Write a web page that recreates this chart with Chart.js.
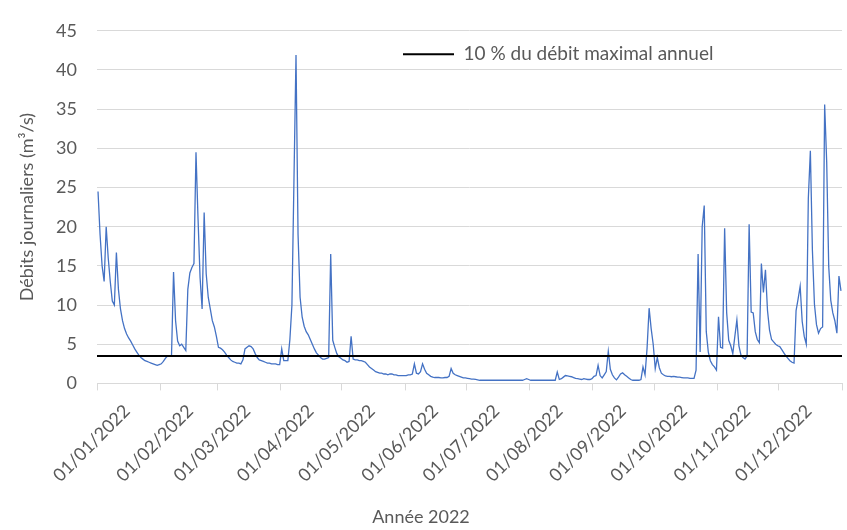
<!DOCTYPE html>
<html lang="fr">
<head>
<meta charset="utf-8">
<script src="https://cdn.jsdelivr.net/npm/chart.js@4.4.1/dist/chart.umd.min.js"></script>
<style>
  html, body { margin: 0; padding: 0; background: #ffffff; }
  #graphique { display: block; }
</style>
</head>
<body>
<canvas id="graphique" width="847" height="530"></canvas>
<script>
// Débits journaliers 2022 (m3/s) - une ligne par mois
const debitsJournaliers = [
  // janvier
  24.5, 19, 15, 13, 20, 16, 13, 10.5, 10, 16.7, 12, 9.5, 8, 7, 6.3, 5.8, 5.4, 4.9, 4.4, 4.0, 3.6, 3.3, 3.1, 2.9, 2.8, 2.7, 2.6, 2.5, 2.4, 2.3, 2.4,
  // février
  2.5, 2.8, 3.2, 3.5, 3.5, 3.5, 14.2, 8, 5.4, 4.8, 5.0, 4.6, 4.2, 12, 14.1, 14.8, 15.3, 29.5, 21, 13.5, 9.5, 21.8, 14, 11, 9.5, 8, 7.2, 6.0,
  // mars
  4.6, 4.5, 4.3, 4.0, 3.6, 3.3, 3.0, 2.8, 2.7, 2.6, 2.6, 2.5, 3.0, 4.4, 4.6, 4.8, 4.7, 4.4, 3.8, 3.3, 3.0, 2.9, 2.8, 2.7, 2.6, 2.6, 2.5, 2.5, 2.5, 2.4, 2.4,
  // avril
  4.4, 2.9, 2.9, 2.9, 5.6, 10, 26, 41.9, 19, 11, 8.5, 7.3, 6.6, 6.2, 5.6, 5.0, 4.4, 3.9, 3.6, 3.3, 3.1, 3.1, 3.2, 3.3, 16.5, 5.5, 4.6, 3.8, 3.4, 3.2,
  // mai
  3.0, 2.9, 2.7, 2.8, 6.0, 3.1, 3.0, 3.0, 2.9, 2.9, 2.8, 2.7, 2.4, 2.1, 1.9, 1.7, 1.5, 1.4, 1.3, 1.3, 1.2, 1.2, 1.1, 1.2, 1.2, 1.1, 1.1, 1.0, 1.0, 1.0, 1.0,
  // juin
  1.0, 1.1, 1.1, 1.2, 2.5, 1.3, 1.2, 1.5, 2.5, 1.8, 1.3, 1.1, 0.9, 0.8, 0.75, 0.75, 0.75, 0.7, 0.7, 0.75, 0.75, 0.9, 1.9, 1.3, 1.1, 1.0, 0.9, 0.8, 0.7, 0.7,
  // juillet
  0.65, 0.6, 0.55, 0.55, 0.5, 0.45, 0.4, 0.4, 0.4, 0.4, 0.4, 0.4, 0.4, 0.4, 0.4, 0.4, 0.4, 0.4, 0.4, 0.4, 0.4, 0.4, 0.4, 0.4, 0.4, 0.4, 0.4, 0.4, 0.5, 0.6, 0.5,
  // août
  0.4, 0.4, 0.4, 0.4, 0.4, 0.4, 0.4, 0.4, 0.4, 0.4, 0.4, 0.4, 0.4, 1.45, 0.5, 0.6, 0.8, 1.0, 0.95, 0.9, 0.85, 0.75, 0.65, 0.6, 0.55, 0.5, 0.6, 0.55, 0.5, 0.5, 0.6,
  // septembre
  0.9, 1.0, 2.3, 1.0, 0.7, 1.1, 1.5, 4.1, 1.8, 1.1, 0.7, 0.45, 0.8, 1.2, 1.35, 1.1, 0.9, 0.7, 0.5, 0.4, 0.4, 0.4, 0.4, 0.5, 2.1, 1.1, 4.5, 9.6, 7.0, 5.0,
  // octobre
  1.9, 3.3, 2.0, 1.3, 1.1, 0.95, 0.9, 0.9, 0.85, 0.9, 0.85, 0.8, 0.8, 0.75, 0.7, 0.7, 0.7, 0.65, 0.65, 0.65, 1.7, 16.5, 4.0, 20, 22.7, 6.6, 4.0, 2.9, 2.4, 2.1, 1.7,
  // novembre
  8.5, 4.6, 4.5, 19.8, 9, 5.5, 4.8, 3.8, 6.0, 8.1, 4.8, 3.6, 3.3, 3.1, 3.5, 20.3, 9.1, 9.0, 6.6, 5.6, 5.2, 15.3, 11.6, 14.5, 9.3, 6.8, 5.6, 5.3, 5.0, 4.8,
  // décembre
  4.7, 4.3, 3.9, 3.5, 3.2, 2.9, 2.7, 2.6, 9.3, 10.8, 12.4, 7.9, 6.0, 5.0, 23.6, 29.7, 17, 10.1, 7.5, 6.4, 7.0, 7.2, 35.6, 28.3, 14.9, 10.6, 9.0, 8.0, 6.4, 13.7, 11.8
];

// Seuil horizontal
const seuil = 3.5;

// Début de chaque mois (en jours depuis le 01/01) + fin d'année
const debutsMois = [0, 31, 59, 90, 120, 151, 181, 212, 243, 273, 304, 334, 365];
const etiquettesMois = ['01/01/2022', '01/02/2022', '01/03/2022', '01/04/2022', '01/05/2022', '01/06/2022',
                        '01/07/2022', '01/08/2022', '01/09/2022', '01/10/2022', '01/11/2022', '01/12/2022'];

const gris = '#595959';
const grille = '#d9d9d9';
const police = 'Lato, "Open Sans", sans-serif';

// Chaque point est au milieu de sa journée
const pointsDebit = debitsJournaliers.map((v, i) => ({ x: i + 0.5, y: v }));
const pointsSeuil = [{ x: 0, y: seuil }, { x: 365, y: seuil }];

// Légende posée à l'intérieur de la zone du graphique
const placerLegende = {
  id: 'placerLegende',
  afterLayout(chart) {
    const lg = chart.legend;
    lg.left = 393;
    lg.right = chart.chartArea.right;
    lg.top = chart.chartArea.top + 4;
    lg.bottom = chart.chartArea.top + 60;
  }
};

new Chart(document.getElementById('graphique'), {
  type: 'line',
  data: {
    datasets: [
      {
        label: 'Débits journaliers',
        data: pointsDebit,
        borderColor: '#4472c4',
        borderWidth: 1.3,
        pointRadius: 0,
        tension: 0,
        order: 1
      },
      {
        label: '10 % du débit maximal annuel',
        data: pointsSeuil,
        borderColor: '#000000',
        backgroundColor: '#000000',
        borderWidth: 2,
        pointRadius: 0,
        order: 0
      }
    ]
  },
  options: {
    responsive: false,
    animation: false,
    layout: { padding: { left: 0, right: 5, top: 20, bottom: 0 } },
    scales: {
      x: {
        type: 'linear',
        min: 0,
        max: 365,
        afterBuildTicks: (axis) => { axis.ticks = debutsMois.map(v => ({ value: v })); },
        afterFit: (scale) => {
          scale.height = 115;
          scale.paddingLeft = 0;
          scale.paddingRight = 0;
        },
        grid: { drawOnChartArea: false, drawTicks: true, tickLength: 7, color: grille },
        border: { display: true, color: grille },
        ticks: {
          autoSkip: false,
          minRotation: 45,
          maxRotation: 45,
          labelOffset: 30,
          padding: 10,
          color: gris,
          font: { family: police, size: 18 },
          callback: (value, index) => etiquettesMois[index] ?? ''
        }
      },
      y: {
        min: 0,
        max: 45,
        afterFit: (scale) => { scale.width = 97; },
        grid: { color: grille, drawTicks: false },
        border: { display: false },
        ticks: {
          stepSize: 5,
          padding: 20,
          color: gris,
          font: { family: police, size: 18 }
        },
        title: {
          display: true,
          text: 'Débits journaliers (m³/s)',
          color: gris,
          font: { family: police, size: 18 },
          padding: { top: 16, bottom: 0 }
        }
      }
    },
    plugins: {
      legend: {
        position: 'chartArea',
        align: 'start',
        labels: {
          filter: (item) => item.datasetIndex === 1,
          usePointStyle: true,
          pointStyle: 'line',
          pointStyleWidth: 51,
          padding: 10,
          color: gris,
          font: { family: police, size: 19 }
        }
      },
      title: {
        display: true,
        position: 'bottom',
        text: 'Année 2022',
        color: gris,
        font: { family: police, size: 18, weight: 'normal' },
        padding: { top: 8, bottom: 2 }
      },
      tooltip: { enabled: false }
    }
  },
  plugins: [placerLegende]
});
</script>
</body>
</html>
